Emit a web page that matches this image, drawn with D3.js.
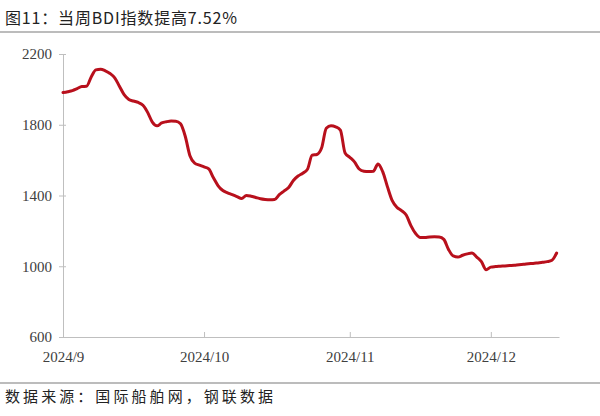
<!DOCTYPE html>
<html>
<head>
<meta charset="utf-8">
<script src="https://cdn.jsdelivr.net/npm/d3@7"></script>
<style>
  body { margin: 0; background: #fff; }
  svg { display: block; }
  .rule { stroke: #a6a6a6; stroke-width: 1.5; }
  .axis path, .axis line { stroke: #bfbfbf; stroke-width: 1; }
  .axis text { font-family: "Liberation Serif", "Times New Roman", serif; font-size: 15px; fill: #404040; }
  .bdi-line { fill: none; stroke: #b8101c; stroke-width: 3; stroke-linejoin: round; stroke-linecap: round; }
  .title, .source { font-family: "Noto Sans CJK SC", sans-serif; fill: #222; }
</style>
</head>
<body>
<div id="chart"></div>
<script>
// Données : BDI quotidien, du 2 sept. au 16 déc. 2024
const startDay = "2024-09-02";
const endDay = "2024-12-16";
const bdiValues = [
  1982, 1987, 1993, 2004, 2016, 2017, 2070, 2110, 2114, 2105,
  2090, 2065, 2018, 1970, 1943, 1934, 1926, 1910, 1870, 1815,
  1794, 1810, 1817, 1821, 1820, 1805, 1735, 1625, 1583, 1572,
  1562, 1550, 1500, 1455, 1428, 1415, 1405, 1394, 1383, 1400,
  1396, 1389, 1382, 1378, 1376, 1377, 1405, 1425, 1445, 1485,
  1510, 1526, 1548, 1628, 1632, 1668, 1780, 1794, 1788, 1770,
  1640, 1616, 1590, 1550, 1537, 1535, 1537, 1578, 1535, 1450,
  1372, 1334, 1315, 1290, 1230, 1185, 1162, 1163, 1166, 1167,
  1166, 1152, 1095, 1058, 1052, 1062, 1070, 1075, 1052, 1026,
  980, 995, 998, 1000, 1002, 1004, 1006, 1009, 1011, 1014,
  1016, 1019, 1022, 1026, 1034, 1075
];
const xTickDays = ["2024-09-02", "2024-10-02", "2024-11-02", "2024-12-02"];
const xTickLabels = ["2024/9", "2024/10", "2024/11", "2024/12"];
const yTicks = [600, 1000, 1400, 1800, 2200];
const titleText = "图11：当周BDI指数提高7.52%";
const sourceText = "数据来源：国际船舶网，钢联数据";

const width = 600;
const height = 416;
const margin = { top: 54, right: 41, bottom: 79, left: 63 };

const parseDay = d3.timeParse("%Y-%m-%d");
const days = d3.timeDay.range(parseDay(startDay), d3.timeDay.offset(parseDay(endDay), 1));
const data = days.map((d, i) => ({ date: d, value: bdiValues[i] }));

const svg = d3.select("#chart")
  .append("svg")
    .attr("width", width)
    .attr("height", height);

// Titre + filets
svg.append("text")
  .attr("class", "title")
  .attr("x", 5)
  .attr("y", 24)
  .attr("font-size", 16)
  .attr("textLength", 232)
  .attr("lengthAdjust", "spacing")
  .text(titleText);

svg.append("line").attr("class", "rule")
  .attr("x1", 0).attr("x2", width).attr("y1", 32).attr("y2", 32);

svg.append("line").attr("class", "rule")
  .attr("x1", 0).attr("x2", width).attr("y1", 383).attr("y2", 383);

svg.append("text")
  .attr("class", "source")
  .attr("x", 5)
  .attr("y", 402)
  .attr("font-size", 15)
  .attr("textLength", 268)
  .attr("lengthAdjust", "spacing")
  .text(sourceText);

// Échelles
const xScale = d3.scaleTime()
  .domain([parseDay(startDay), d3.timeHour.offset(parseDay(endDay), 12)])
  .range([margin.left, width - margin.right]);

const yScale = d3.scaleLinear()
  .domain([600, 2200])
  .range([height - margin.bottom - 0, margin.top]);

// AXE X
const xAxis = svg.append("g")
  .attr("class", "axis")
  .attr("transform", `translate(0,${yScale(600)})`)
  .call(d3.axisBottom(xScale)
    .tickValues(xTickDays.map(parseDay))
    .tickFormat((d, i) => xTickLabels[i])
    .tickSizeInner(-5)
    .tickSizeOuter(0)
  );
xAxis.selectAll(".tick text").attr("y", 14);
// pas de trait à l'origine (c'est l'axe Y)
xAxis.select(".tick line").remove();

// AXE Y
const yAxis = svg.append("g")
  .attr("class", "axis")
  .attr("transform", `translate(${margin.left},0)`)
  .call(d3.axisLeft(yScale)
    .tickValues(yTicks)
    .tickFormat(d3.format("d"))
    .tickSizeInner(4)
    .tickSizeOuter(0)
  );
yAxis.selectAll(".tick line").attr("x1", 3);
yAxis.selectAll(".tick text").attr("x", -11);

// Courbe
const line = d3.line()
  .x(d => xScale(d.date))
  .y(d => yScale(d.value))
  .curve(d3.curveMonotoneX);

svg.append("path")
  .datum(data)
  .attr("class", "bdi-line")
  .attr("d", line);
</script>
</body>
</html>
